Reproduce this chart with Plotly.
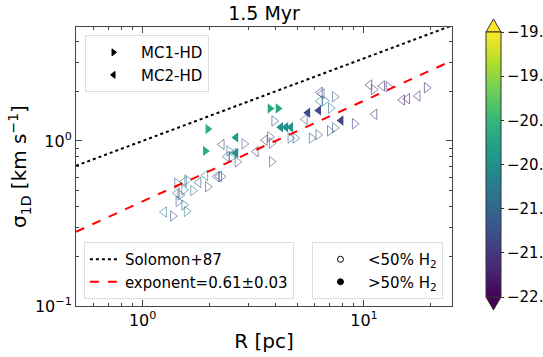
import numpy as np
import plotly.graph_objects as go

# ---- data (R in pc, sigma in km/s, colour = log value) ----
# filled markers (>50% H2)
mc1_full_R = [1.97, 1.92, 3.76, 4.09]
mc1_full_sig = [1.18, 0.87, 1.57, 1.57]
mc1_full_c = [-20.1, -20.1, -20.2, -20.2]

mc2_full_R = [2.64, 2.64, 4.21, 4.44, 4.67, 5.58, 6.25, 7.89]
mc2_full_sig = [1.05, 0.846, 1.21, 1.21, 1.21, 1.48, 1.53, 1.33]
mc2_full_c = [-20.4, -20.5, -20.5, -20.5, -20.5, -21.3, -21.3, -21.4]

# open markers (<50% H2)
mc1_open_R = [1.37, 1.58, 1.54, 1.45, 1.48, 1.54, 1.69, 1.43, 1.59, 1.97,
              2.27, 2.88, 2.53, 2.68, 2.46, 3.76, 3.83, 3.83, 3.93, 4.65,
              4.90, 5.80, 6.21, 7.01, 7.38, 7.08, 6.65, 7.38, 9.08, 11.06,
              12.9, 19.2]
mc1_open_sig = [0.351, 0.374, 0.409, 0.430, 0.471, 0.505, 0.50, 0.554, 0.580, 0.528,
                0.608, 0.959, 0.80, 0.746, 0.870, 1.06, 0.97, 0.749, 1.32, 1.04,
                1.04, 1.04, 1.09, 1.15, 1.20, 1.58, 1.75, 1.85, 1.27, 2.05,
                2.13, 2.10]
mc1_open_c = [-21.3, -20.6, -21.0, -21.1, -21.2, -20.8, -20.7, -21.1, -20.7, -21.2,
              -21.3, -21.2, -20.8, -21.2, -20.9, -21.0, -21.1, -21.2, -21.3, -21.1,
              -21.0, -21.1, -21.2, -21.2, -21.1, -20.9, -20.9, -21.0, -21.4, -21.3,
              -21.5, -21.6]

mc2_open_R = [1.25, 1.43, 1.54, 1.79, 1.92, 2.16, 2.22, 2.28, 2.40, 2.58,
              3.25, 3.57, 5.41, 6.32, 6.45, 6.32, 11.17, 10.6, 12.1, 14.9,
              15.7, 17.5]
mc2_open_sig = [0.371, 0.484, 0.567, 0.56, 0.618, 0.608, 0.61, 0.952, 0.803, 0.842,
                0.861, 1.01, 1.35, 1.97, 1.93, 1.74, 1.45, 2.18, 2.15, 1.77,
                1.80, 1.87]
mc2_open_c = [-20.8, -21.0, -20.9, -21.2, -20.7, -21.1, -21.3, -21.4, -21.0, -20.6,
              -21.5, -21.5, -21.1, -21.5, -21.3, -20.8, -21.6, -21.6, -21.6, -21.7,
              -21.6, -21.6]

# power-law lines
solomon_coef, solomon_exp = 1.0, 0.5
fit_coef, fit_exp, fit_err = 0.43, 0.61, 0.03

cmin, cmax = -22.0, -19.0
cbar_ticks = [-22.0, -21.5, -21.0, -20.5, -20.0, -19.5, -19.0]

W, H = 543, 357
L, R_, T, B = 76, 91, 27, 51
PW, PH = W - L - R_, H - T - B


def px2paper(x, y):
    return (x - L) / PW, 1 - (y - T) / PH


def scatter(x, y, c, symbol, opacity, lw):
    return go.Scatter(
        x=x, y=y, mode="markers", showlegend=False, hoverinfo="skip",
        marker=dict(symbol=symbol, size=9, color=c, colorscale="Viridis",
                    cmin=cmin, cmax=cmax, opacity=opacity,
                    line=dict(width=lw)))


fig = go.Figure()
fig.add_trace(scatter(mc1_open_R, mc1_open_sig, mc1_open_c, "triangle-right-open", 0.6, 1))
fig.add_trace(scatter(mc2_open_R, mc2_open_sig, mc2_open_c, "triangle-left-open", 0.6, 1))
fig.add_trace(scatter(mc1_full_R, mc1_full_sig, mc1_full_c, "triangle-right", 1, 0))
fig.add_trace(scatter(mc2_full_R, mc2_full_sig, mc2_full_c, "triangle-left", 1, 0))

rr = np.array([0.5, 25.0])
fig.add_trace(go.Scatter(x=rr, y=solomon_coef * rr ** solomon_exp, mode="lines",
                         name="Solomon+87", legend="legend2",
                         line=dict(color="black", dash="dot", width=2)))
fig.add_trace(go.Scatter(x=rr, y=fit_coef * rr ** fit_exp, mode="lines",
                         name="exponent=%.2f±%.2f" % (fit_exp, fit_err), legend="legend2",
                         line=dict(color="red", dash="dash", width=2)))

# legend-only entries
for name, sym, lg in [("MC1-HD", "triangle-right", "legend"),
                      ("MC2-HD", "triangle-left", "legend"),
                      ("<50% H<sub>2</sub>", "circle-open", "legend3"),
                      (">50% H<sub>2</sub>", "circle", "legend3")]:
    fig.add_trace(go.Scatter(x=[None], y=[None], mode="markers", name=name, legend=lg,
                             marker=dict(symbol=sym, size=6, color="black",
                                         line=dict(width=1, color="black"))))

# colourbar
cb_x, cb_top = px2paper(486, 32)
_, cb_bot = px2paper(486, 297)
fig.add_trace(go.Scatter(
    x=[None], y=[None], mode="markers", showlegend=False, hoverinfo="skip",
    marker=dict(color=[cmin], colorscale="Viridis", cmin=cmin, cmax=cmax, showscale=True,
                colorbar=dict(x=cb_x, xanchor="left", y=(cb_top + cb_bot) / 2,
                              yanchor="middle", len=cb_top - cb_bot, lenmode="fraction",
                              thickness=15, thicknessmode="pixels", xpad=0, ypad=0,
                              outlinewidth=1, outlinecolor="#333",
                              tickvals=cbar_ticks,
                              ticktext=["−%.1f" % abs(v) for v in cbar_ticks],
                              ticks="outside", ticklen=3, tickcolor="#333",
                              tickfont=dict(size=15, color="black")))))

# colourbar extension triangles
x0, yb = px2paper(486, 32)
x1, _ = px2paper(501, 32)
xm, ya = px2paper(493.5, 19)
fig.add_shape(type="path", xref="paper", yref="paper",
              path="M %f %f L %f %f L %f %f Z" % (x0, yb, x1, yb, xm, ya),
              fillcolor="#fde725", line=dict(color="#333", width=1))
x0, yb = px2paper(486, 297)
xm, ya = px2paper(493.5, 310)
fig.add_shape(type="path", xref="paper", yref="paper",
              path="M %f %f L %f %f L %f %f Z" % (x0, yb, x1, yb, xm, ya),
              fillcolor="#440154", line=dict(color="#333", width=1))

axis_common = dict(type="log", showgrid=False, zeroline=False, showline=True,
                   linecolor="#444", linewidth=1, mirror="allticks", ticks="inside",
                   ticklen=6, tickcolor="#444", tickfont=dict(size=16, color="black"))

fig.update_xaxes(axis_common, range=[np.log10(0.5), np.log10(25)],
                 tickvals=[1, 10], ticktext=["10<sup>0</sup>", "10<sup>1</sup>"],
                 minor=dict(tickvals=[0.5, 0.6, 0.7, 0.8, 0.9, 2, 3, 4, 5, 6, 7, 8, 9, 20],
                            ticks="inside", ticklen=3, tickcolor="#444"),
                 title=dict(text="R [pc]", font=dict(size=20), standoff=4))
fig.update_yaxes(axis_common, range=[-1, 0.69],
                 tickvals=[0.1, 1], ticktext=["10<sup>−1</sup>", "10<sup>0</sup>"],
                 minor=dict(tickvals=[0.2, 0.3, 0.4, 0.5, 0.6, 0.7, 0.8, 0.9, 2, 3, 4],
                            ticks="inside", ticklen=3, tickcolor="#444"),
                 title=dict(text="σ<sub>1D</sub> [km s<sup>−1</sup>]", font=dict(size=20),
                            standoff=2))

leg = dict(bgcolor="rgba(255,255,255,0.8)", bordercolor="#ddd", borderwidth=1,
           font=dict(size=15, color="black"))
fig.update_layout(
    width=W, height=H, margin=dict(l=L, r=R_, t=T, b=B, autoexpand=False),
    paper_bgcolor="white", plot_bgcolor="white",
    font=dict(family="DejaVu Sans", color="black"),
    title=dict(text="1.5 Myr", x=(L + PW / 2) / W, xanchor="center",
               y=1 - 13 / H, yanchor="middle", font=dict(size=19)),
    legend=dict(leg, x=0.024, y=0.971, xanchor="left", yanchor="top", itemwidth=45),
    legend2=dict(leg, x=0.021, y=0.025, xanchor="left", yanchor="bottom"),
    legend3=dict(leg, x=0.976, y=0.025, xanchor="right", yanchor="bottom", itemwidth=45),
)

# page body has a default 8px margin; drop it so the figure sits at the window origin
fig.write_html("out.html", config={"displayModeBar": False},
               post_script="document.body.style.margin='0px';")
